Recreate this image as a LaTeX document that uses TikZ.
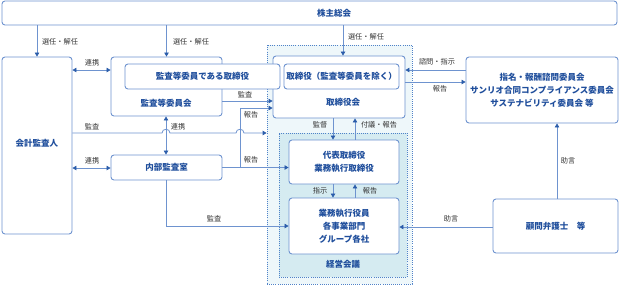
\documentclass[tikz,border=0pt]{standalone}
\usepackage{fontspec}
\setmainfont{Noto Sans CJK JP}
\usetikzlibrary{arrows.meta,calc}
\definecolor{boxline}{HTML}{6E93CF}
\definecolor{boxtext}{HTML}{1F4E9C}
\definecolor{connc}{HTML}{6E93CF}
\definecolor{tipc}{HTML}{2A5CAA}
\definecolor{outerbg}{HTML}{EEF7FA}
\definecolor{innerbg}{HTML}{D5EBF1}
\definecolor{dotc}{HTML}{4F82C8}
\definecolor{lbl}{HTML}{333333}
\begin{document}
\begin{tikzpicture}[x=1pt,y=-1pt,
 box/.style={draw=boxline, line width=0.9pt, rounded corners=3pt, fill=white, inner sep=0pt,
   text=boxtext, font=\fontsize{8.5}{13}\selectfont\bfseries, align=center},
 boxtxt/.style={text=boxtext, font=\fontsize{8.5}{13}\selectfont\bfseries, align=center, inner sep=0pt},
 lab/.style={text=lbl, font=\fontsize{7.2}{9}\selectfont, inner sep=0pt},
 conn/.style={draw=connc, line width=0.8pt},
 arr/.style={conn, -{Triangle[length=4pt,width=4.5pt,color=tipc]}},
 darr/.style={conn, {Triangle[length=4pt,width=4.5pt,color=tipc]}-{Triangle[length=4pt,width=4.5pt,color=tipc]}},
 region/.style={draw=dotc, line width=0.8pt, dash pattern=on 0.8pt off 1.3pt, inner sep=0pt}
]
\useasboundingbox (0,0) rectangle (621,285);

% regions
\node[region, fill=outerbg, minimum width=145pt, minimum height=239pt] (outer) at (339.5,164.5) {};
\node[region, fill=innerbg, minimum width=128pt, minimum height=144pt] (inner) at (343,205) {};
\node[boxtxt] (keieiT) at (343,264) {経営会議};

% boxes
\node[box, minimum width=615pt, minimum height=24pt] (kabu) at (309.5,13) {};
\node[boxtxt] (kabuT) at (334,13) {株主総会};
\node[box, minimum width=70pt, minimum height=177pt] (kaikei) at (37,145.5) {};
\node[boxtxt] (kaikeiT) at (37,143) {会計監査人};
\node[box, minimum width=111pt, minimum height=59pt] (kansaI) at (166.5,86.5) {};
\node[boxtxt] (kansaIT) at (166,103) {監査等委員会};
\node[box, minimum width=132pt, minimum height=62pt] (tk) at (339,87) {};
\node[boxtxt] (tkT) at (343,102) {取締役会};
\node[box, minimum width=155pt, minimum height=25pt] (kansaT) at (202.5,76.5) {監査等委員である取締役};
\node[box, minimum width=115pt, minimum height=25pt] (toriI) at (341.5,76.5) {取締役（監査等委員を除く）};
\node[box, minimum width=111pt, minimum height=25pt] (naibu) at (166.5,167.5) {内部監査室};
\node[box, minimum width=110pt, minimum height=44pt] (daihyo) at (344,162) {代表取締役\\業務執行取締役};
\node[box, minimum width=110pt, minimum height=56pt] (gyomu) at (344,226) {業務執行役員\\各事業部門\\グループ各社};
\node[box, minimum width=152pt, minimum height=66pt] (shimei) at (542,90) {指名・報酬諮問委員会\\サンリオ合同コンプライアンス委員会\\サステナビリティ委員会 等};
\node[box, minimum width=125pt, minimum height=54pt] (komon) at (555.5,226) {顧問弁護士　等};

% connectors from shareholders
\draw[arr] (kabu.south -| kaikei.north) -- (kaikei.north);
\node[lab] at (60,42) {選任・解任};
\draw[arr] (kabu.south -| kansaI.north) -- (kansaI.north);
\node[lab] at (191,42) {選任・解任};
\draw[arr] (kabu.south -| 343,0) -- (tk.north -| 343,0);
\node[lab] at (366,37) {選任・解任};

% left side
\draw[darr] (kaikei.east |- 0,70) -- (kansaI.west |- 0,70);
\node[lab] at (92,63) {連携};
\draw[darr] (kaikei.east |- 0,168) -- (naibu.west |- 0,168);
\node[lab] at (92,161) {連携};
\draw[arr] (kaikei.east |- 0,133) -- (162,133) .. controls (162,128) and (170,128) .. (170,133)
  -- (236,133) .. controls (236,128) and (244,128) .. (244,133) -- (outer.west |- 0,133);
\node[lab] at (92,127) {監査};
\draw[darr] (kansaI.south -| 166,0) -- (naibu.north -| 166,0);
\node[lab] at (178,127) {連携};
\draw[arr] (kansaI.east |- 0,101) -- (tk.west |- 0,101);
\node[lab] at (245,95) {監査};
\draw[arr] (naibu.east) -- (daihyo.west |- naibu.east);
\node[lab] at (251,160) {報告};
\draw[arr] (240,168) -- (240,108) -- (tk.west |- 0,108);
\node[lab] at (251,115) {報告};
\draw[arr] (naibu.south -| 166,0) -- (166,226) -- (gyomu.west |- 0,226);
\node[lab] at (214,219) {監査};

% centre column
\draw[arr] (tk.south -| 333,0) -- (daihyo.north -| 333,0);
\node[lab] at (320,125) {監督};
\draw[arr] (daihyo.north -| 355,0) -- (tk.south -| 355,0);
\node[lab] at (379,125) {付議・報告};
\draw[arr] (daihyo.south -| 333,0) -- (gyomu.north -| 333,0);
\node[lab] at (320,191) {指示};
\draw[arr] (gyomu.north -| 355,0) -- (daihyo.south -| 355,0);
\node[lab] at (370,191) {報告};

% right side
\draw[arr] (shimei.west |- 0,70) -- (tk.east |- 0,70);
\node[lab] at (437,62) {諮問・指示};
\draw[arr] (tk.east |- 0,82) -- (shimei.west |- 0,82);
\node[lab] at (440,89) {報告};
\draw[arr] (komon.north -| 557,0) -- (shimei.south -| 557,0);
\node[lab] at (568,161) {助言};
\draw[arr] (komon.west |- 0,227) -- (gyomu.east |- 0,227);
\node[lab] at (451,219) {助言};
\end{tikzpicture}
\end{document}
